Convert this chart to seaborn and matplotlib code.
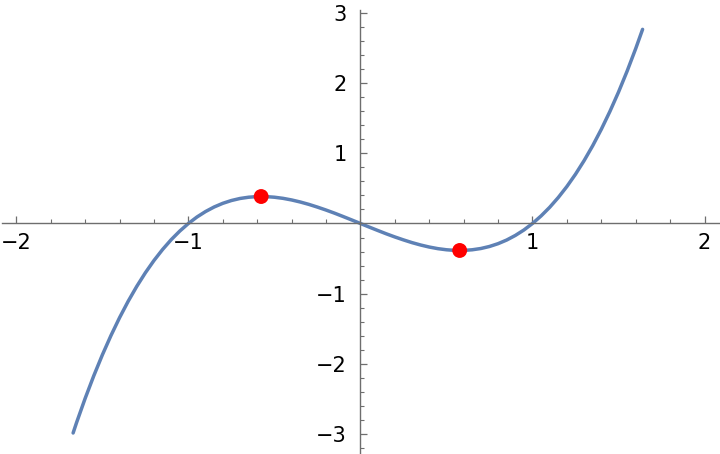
import numpy as np
import pandas as pd
import seaborn as sns
import matplotlib.pyplot as plt
from matplotlib.ticker import MultipleLocator

# curve samples
x_vals = [-1.67, -1.65, -1.6, -1.55, -1.5, -1.45, -1.4, -1.35, -1.3, -1.25, -1.2, -1.15, -1.1, -1.05,
          -1.0, -0.95, -0.9, -0.85, -0.8, -0.75, -0.7, -0.65, -0.6, -0.55, -0.5, -0.45, -0.4, -0.35,
          -0.3, -0.25, -0.2, -0.15, -0.1, -0.05, 0.0, 0.05, 0.1, 0.15, 0.2, 0.25, 0.3, 0.35, 0.4,
          0.45, 0.5, 0.55, 0.6, 0.65, 0.7, 0.75, 0.8, 0.85, 0.9, 0.95, 1.0, 1.05, 1.1, 1.15, 1.2,
          1.25, 1.3, 1.35, 1.4, 1.45, 1.5, 1.55, 1.6, 1.64]
y_vals = [-2.99, -2.842, -2.496, -2.174, -1.875, -1.599, -1.344, -1.110, -0.897, -0.703, -0.528,
          -0.371, -0.231, -0.108, 0.0, 0.093, 0.171, 0.236, 0.288, 0.328, 0.357, 0.375, 0.384,
          0.384, 0.375, 0.359, 0.336, 0.307, 0.273, 0.234, 0.192, 0.147, 0.099, 0.050, 0.0,
          -0.050, -0.099, -0.147, -0.192, -0.234, -0.273, -0.307, -0.336, -0.359, -0.375, -0.384,
          -0.384, -0.375, -0.357, -0.328, -0.288, -0.236, -0.171, -0.093, 0.0, 0.108, 0.231,
          0.371, 0.528, 0.703, 0.897, 1.110, 1.344, 1.599, 1.875, 2.174, 2.496, 2.771]
# extrema marked in red
pt_x = [-0.577, 0.577]
pt_y = [0.385, -0.385]

x_ticks = [-2, -1, 1, 2]
y_ticks = [-3, -2, -1, 1, 2, 3]

sns.set_style('white')
plt.rcParams['font.family'] = ['DejaVu Sans']

curve = pd.DataFrame({'x': x_vals, 'y': y_vals})
points = pd.DataFrame({'x': pt_x, 'y': pt_y})

fig = plt.figure(figsize=(7.2, 4.54), dpi=100)
ax = fig.add_axes([0, 0, 1, 1])
sns.lineplot(data=curve, x='x', y='y', ax=ax, color='#5E81B5', linewidth=2.5, sort=False)
sns.scatterplot(data=points, x='x', y='y', ax=ax, color='#FF0000', s=115, edgecolor='none', zorder=5)

ax.set_xlim(-2.095, 2.09)
ax.set_ylim(-3.29, 3.19)
ax.set_xlabel('')
ax.set_ylabel('')

ax.spines['left'].set_position(('data', 0))
ax.spines['bottom'].set_position(('data', 0))
ax.spines['top'].set_visible(False)
ax.spines['right'].set_visible(False)
for s in ['left', 'bottom']:
	ax.spines[s].set_color('#6e6e6e')
	ax.spines[s].set_linewidth(1.0)
ax.spines['left'].set_bounds(-3.29, 3.05)
ax.spines['bottom'].set_bounds(-2.085, 2.085)

ax.set_xticks(x_ticks)
ax.set_yticks(y_ticks)
ax.set_xticklabels(['\u22122', '\u22121', '1', '2'])
ax.set_yticklabels(['\u22123', '\u22122', '\u22121', '1', '2', '3'])
ax.xaxis.set_minor_locator(MultipleLocator(0.2))
ax.yaxis.set_minor_locator(MultipleLocator(0.2))
ax.tick_params(which='both', bottom=True, left=True, top=False, right=False)
ax.tick_params(which='major', direction='in', length=5, width=0.9, color='#6e6e6e',
               labelsize=15, labelcolor='black')
ax.tick_params(which='minor', direction='in', length=3, width=0.8, color='#6e6e6e')
ax.tick_params(axis='x', which='major', pad=7)
ax.tick_params(axis='y', which='major', pad=10)
ax.grid(False)

fig.savefig('out.png', dpi=100)
